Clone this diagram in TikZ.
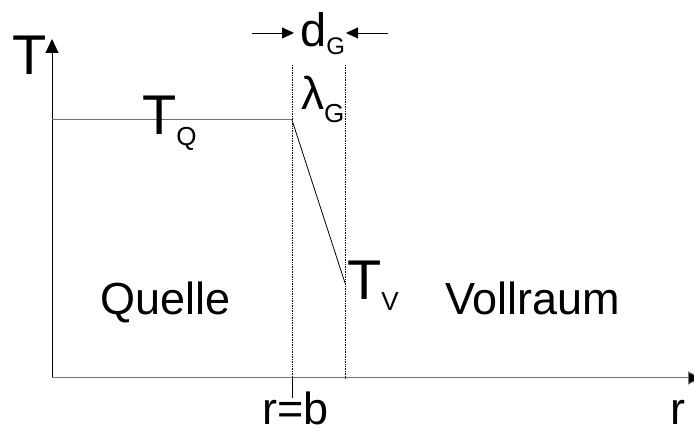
\documentclass[tikz,border=0pt]{standalone}
\usepackage{fontspec}
\setmainfont{Liberation Sans}
\usetikzlibrary{arrows.meta}
\newcommand{\bigsym}[3]{{\fontsize{56}{60}\selectfont #1}{\fontsize{26}{28}\selectfont\raisebox{#3}{#2}}}
\newcommand{\midtxt}[1]{{\fontsize{45}{50}\selectfont #1}}
\begin{document}
\begin{tikzpicture}[x=1pt,y=-1pt,line join=round]
\tikzset{every node/.style={inner sep=0pt,anchor=base west},
  axis/.style={line width=1pt},
  bigtip/.style={-{Triangle[length=14pt,width=13pt,fill=black]}},
  gaptip/.style={-{Triangle[length=12pt,width=11pt]}},
  guide/.style={line width=0.7pt,densely dotted}}
\useasboundingbox (0,0) rectangle (694,435);
% axes
\coordinate (O) at (52,378);
\coordinate (Ttop) at (52,39);
\coordinate (rend) at (702,378);
\draw[axis,bigtip] (O)--(Ttop);
\draw[axis,black!55,bigtip] (O)--(rend);
% gap boundaries
\coordinate (b) at (292,378);
\coordinate (btick) at (292,398);
\draw[line width=0.8pt] (b)--(btick);
\foreach \x in {292,345} \draw[guide] (\x,65)--(\x,378);
% temperature profile
\coordinate (q0) at (52,120);
\coordinate (q1) at (292,120);
\coordinate (v1) at (345,283);
\draw[line width=1pt,black!55] (q0)--(q1);
\draw[line width=0.8pt] (q1)--(v1);
% gap width
\coordinate (dl) at (252,33); \coordinate (dlt) at (294,33);
\coordinate (dr) at (388,33); \coordinate (drt) at (346,33);
\draw[line width=0.8pt,gaptip] (dl)--(dlt);
\draw[line width=0.8pt,gaptip] (dr)--(drt);
% labels
\node (T) at (12,75) {\fontsize{56}{60}\selectfont T};
\node (r) at (670,425) {\midtxt{r}};
\node (TQ) at (142,135) {\bigsym{T}{Q}{-11pt}};
\node (TV) at (347,300) {\bigsym{T}{V}{-11pt}};
\node (dG) at (300,47) {{\fontsize{47}{50}\selectfont d}{\fontsize{24}{26}\selectfont\raisebox{-8pt}{G}}};
\node (lG) at (301,110) {{\fontsize{46}{50}\selectfont λ}{\fontsize{26}{28}\selectfont\raisebox{-13pt}{G}}};
\node (quelle) at (100,315) {\midtxt{Quelle}};
\node (vollraum) at (445,315) {\midtxt{Vollraum}};
\node (rb) at (262,425) {\midtxt{r=b}};
\end{tikzpicture}
\end{document}
